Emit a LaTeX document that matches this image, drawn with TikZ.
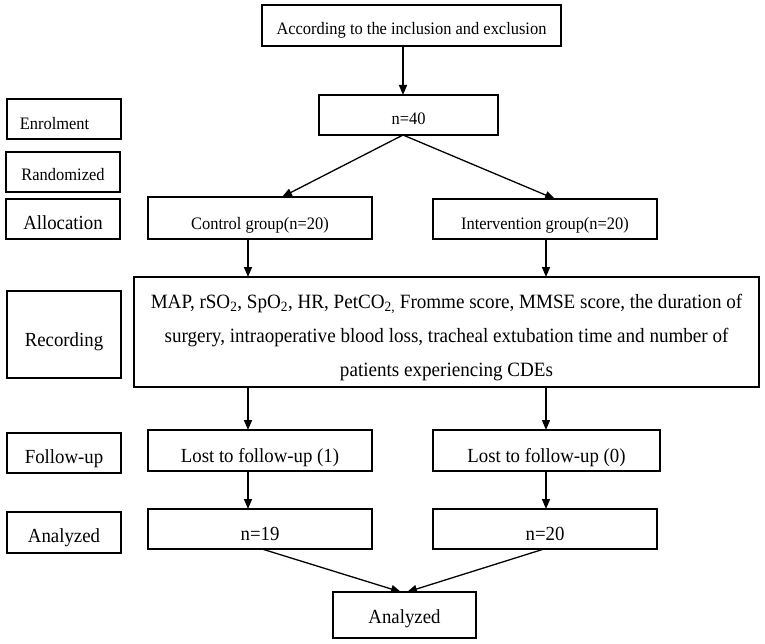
\documentclass[tikz,border=0pt]{standalone}
\usepackage{fontspec}
\setmainfont{Liberation Serif}[FakeStretch=0.94]
\usetikzlibrary{arrows.meta}
\newcommand{\bx}[4]{\parbox[c][#2][t]{#1}{\centering\rule{0pt}{#3}#4}}
\newcommand{\fsmall}{\fontsize{17.5}{21}\selectfont}
\newcommand{\flarge}{\fontsize{20}{34}\selectfont}
\newcommand{\fbig}{\fontsize{20.3}{34}\selectfont}
\begin{document}
\begin{tikzpicture}[x=1pt,y=1pt,
  boxst/.style={draw,line width=1.3pt,inner sep=0pt,outer sep=0pt},
  arr/.style={line width=1.3pt,-{Triangle[length=10pt,width=8pt]}}]
\useasboundingbox[fill=white] (0,0) rectangle (765,-644);
% boxes
\node[boxst] (top) at (411.5,-25.5) {\bx{299pt}{41pt}{30pt}{\fsmall According to the inclusion and exclusion}};
\node[boxst] (n40) at (408.5,-115) {\bx{179pt}{40pt}{30pt}{\fsmall n=40}};
\node[boxst] (enrol) at (64,-119) {\bx{114pt}{40pt}{31pt}{\fsmall Enrolment\hspace*{19pt}}};
\node[boxst] (rand) at (63,-172) {\bx{114pt}{40pt}{29pt}{\fsmall Randomized}};
\node[boxst] (alloc) at (63,-219) {\bx{114pt}{40pt}{31pt}{\flarge Allocation}};
\node[boxst] (ctrl) at (260,-218) {\bx{224pt}{42pt}{33pt}{\fsmall Control group(n=20)}};
\node[boxst] (intv) at (545,-219) {\bx{224pt}{40pt}{31pt}{\fsmall Intervention group(n=20)}};
\node[boxst] (recl) at (64,-334.5) {\bx{114pt}{87pt}{55pt}{\flarge Recording}};
\node[boxst] (big) at (446.5,-332) {\bx{625pt}{110pt}{31pt}{\fbig MAP, rSO\textsubscript{2}, SpO\textsubscript{2}, HR, PetCO\textsubscript{2,} Fromme score, MMSE score, the duration of\\ surgery, intraoperative blood loss, tracheal extubation time and number of\\ patients experiencing CDEs}};
\node[boxst] (fol) at (64,-453) {\bx{114pt}{40pt}{30pt}{\flarge Follow-up}};
\node[boxst] (lost1) at (260,-450.5) {\bx{224pt}{41pt}{32pt}{\flarge Lost to follow-up (1)}};
\node[boxst] (lost0) at (546.5,-450.5) {\bx{227pt}{41pt}{32pt}{\flarge Lost to follow-up (0)}};
\node[boxst] (anl) at (64,-532.5) {\bx{114pt}{41pt}{30pt}{\flarge Analyzed}};
\node[boxst] (n19) at (260,-529) {\bx{224pt}{40pt}{31pt}{\flarge n=19}};
\node[boxst] (n20) at (545,-529) {\bx{224pt}{40pt}{31pt}{\flarge n=20}};
\node[boxst] (fin) at (404.5,-615) {\bx{143pt}{46pt}{31pt}{\flarge Analyzed}};
% guide coordinates for connector x positions
\coordinate (c1) at (403,0);
\coordinate (c2) at (282,0);
\coordinate (c3) at (555,0);
\coordinate (cL) at (248,0);
\coordinate (cR) at (546,0);
\coordinate (c4) at (262,0);
\coordinate (c5) at (401,0);
\coordinate (c6) at (544,0);
\coordinate (c7) at (407,0);
% connectors
\draw[arr] (top.south -| c1) -- (n40.north -| c1);
\draw[arr] (n40.south -| c1) -- (ctrl.north -| c2);
\draw[arr] (n40.south -| c1) -- (intv.north -| c3);
\draw[arr] (ctrl.south -| cL) -- (big.north -| cL);
\draw[arr] (intv.south -| cR) -- (big.north -| cR);
\draw[arr] (big.south -| cL) -- (lost1.north -| cL);
\draw[arr] (big.south -| cR) -- (lost0.north -| cR);
\draw[arr] (lost1.south -| cL) -- (n19.north -| cL);
\draw[arr] (lost0.south -| cR) -- (n20.north -| cR);
\draw[arr] (n19.south -| c4) -- (fin.north -| c5);
\draw[arr] (n20.south -| c6) -- (fin.north -| c7);
\end{tikzpicture}
\end{document}
